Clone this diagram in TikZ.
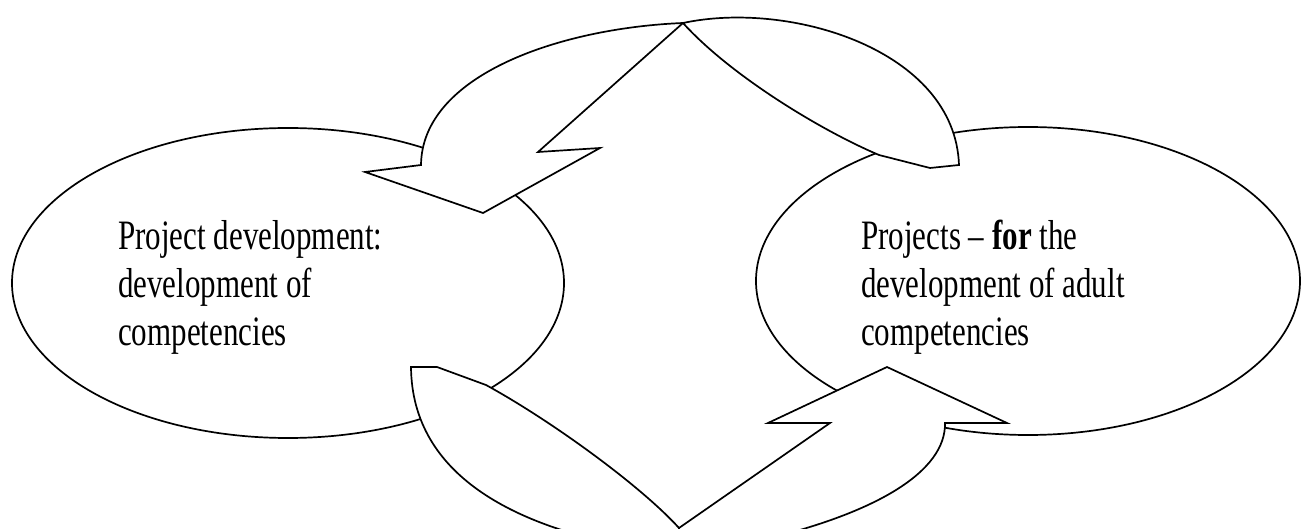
\documentclass[tikz,border=0pt]{standalone}
\usepackage{fontspec}
\setmainfont{Liberation Serif}
\usepackage{graphicx}
\usetikzlibrary{shapes.geometric}
\tikzset{
  oval/.style={draw, ellipse, inner sep=0pt, line width=1.7pt},
  band/.style={draw, fill=white, line width=1.7pt, line join=miter},
  label/.style={anchor=base west, inner sep=0pt, font=\fontsize{31}{35.4}\selectfont}
}
\begin{document}
\begin{tikzpicture}[x=1pt, y=-1pt]
\useasboundingbox (0,0) rectangle (1302,529);
\clip (0,0) rectangle (1302,529);
\fill[white] (0,0) rectangle (1302,529);
% ellipses
\node[oval, minimum width=552pt, minimum height=310pt] (L) at (288,283) {};
\node[oval, minimum width=544pt, minimum height=308pt] (R) at (1028,281) {};
% top curved arrow: tail (right) piece
\path[band] (683,23) .. controls (790,0) and (955,50) .. (959,165)
  -- (930,168) -- (879,155)
  .. controls (820,130) and (730,75) .. (683,23) -- cycle;
% top curved arrow: head (left) piece
\path[band] (683,23) .. controls (560,28) and (422,75) .. (421,165)
  -- (365,172) -- (483,213) -- (600,148) -- (538,152) -- cycle;
% bottom curved arrow: tail (left) piece
\path[band] (411,367) .. controls (412,478) and (520,525) .. (620,545)
  -- (679,545) -- (679,528)
  .. controls (640,485) and (550,420) .. (486,385)
  -- (437,367) -- cycle;
% bottom curved arrow: head (right) piece
\path[band] (679,528) -- (830,423) -- (768,423) -- (887,367) -- (1007,423)
  -- (945,423) .. controls (946,470) and (880,515) .. (740,545)
  -- (679,545) -- cycle;
% texts
\node[label] (lt) at (118,250) {\scalebox{1}[1.35]{\begin{tabular}[t]{@{}l@{}}Project development:\\development of\\competencies\end{tabular}}};
\node[label] (rt) at (861,250) {\scalebox{1}[1.35]{\begin{tabular}[t]{@{}l@{}}Projects -- \textbf{for} the\\development of adult\\competencies\end{tabular}}};
\end{tikzpicture}
\end{document}
